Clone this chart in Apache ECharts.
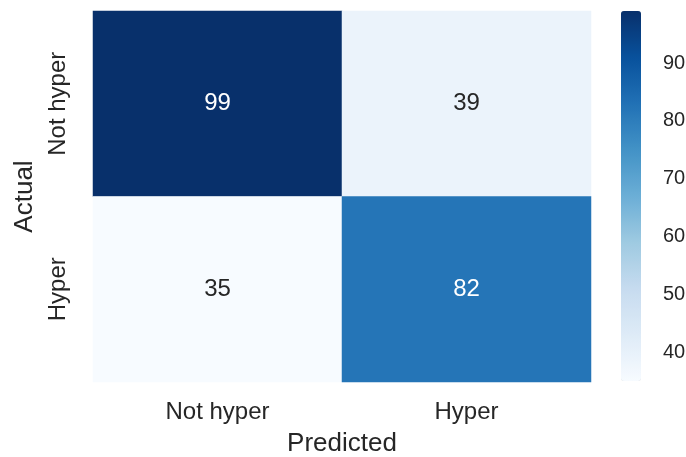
<!DOCTYPE html>
<html>
<head>
<meta charset="utf-8">
<script src="https://cdn.jsdelivr.net/npm/echarts@6/dist/echarts.min.js"></script>
<style>
  html, body { margin: 0; padding: 0; background: #fff; }
  #chart { width: 686px; height: 457px; }
</style>
</head>
<body>
<div id="chart"></div>
<script>
// Confusion matrix: rows are actual classes, columns are predicted classes
const predictedLabels = ['Not hyper', 'Hyper'];
const actualLabels = ['Not hyper', 'Hyper'];
const counts = [
  [99, 39],
  [35, 82]
];
const colorMin = 35;
const colorMax = 99;
const colorbarTicks = [40, 50, 60, 70, 80, 90];

// Sequential blue palette, light to dark
const blues = ['#f7fbff', '#deebf7', '#c6dbef', '#9ecae1', '#6baed6',
               '#4292c6', '#2171b5', '#08519c', '#08306b'];

const FONT = 'Liberation Sans, Arial, sans-serif';
const TEXT = '#262626';

const cells = [];
counts.forEach((row, r) => {
  row.forEach((v, c) => {
    const t = (v - colorMin) / (colorMax - colorMin);
    cells.push({
      value: [c, r, v],
      label: { color: t > 0.5 ? '#ffffff' : TEXT }
    });
  });
});

const chart = echarts.init(document.getElementById('chart'), null, { renderer: 'canvas' });
chart.setOption({
  backgroundColor: '#ffffff',
  animation: false,
  textStyle: { fontFamily: FONT },
  grid: [
    { left: 93, top: 11, width: 498, height: 371, outerBoundsMode: 'none', containLabel: false },
    { left: 621, top: 11, width: 20, height: 370, outerBoundsMode: 'none', containLabel: false }
  ],
  xAxis: [
    {
      gridIndex: 0,
      type: 'category',
      data: predictedLabels,
      axisLine: { show: false },
      axisTick: { show: false },
      splitLine: { show: false },
      axisLabel: { margin: 18, fontSize: 24, color: TEXT, fontFamily: FONT },
      name: 'Predicted',
      nameLocation: 'middle',
      nameGap: 49,
      nameTextStyle: { fontSize: 26, color: TEXT, fontFamily: FONT }
    },
    {
      gridIndex: 1,
      type: 'value',
      show: false
    }
  ],
  yAxis: [
    {
      gridIndex: 0,
      type: 'category',
      data: actualLabels,
      inverse: true,
      axisLine: { show: false },
      axisTick: { show: false },
      splitLine: { show: false },
      axisLabel: { rotate: 90, margin: 23, fontSize: 24, color: TEXT, fontFamily: FONT },
      name: 'Actual',
      nameLocation: 'middle',
      nameGap: 55,
      nameRotate: 90,
      nameTextStyle: { fontSize: 26, color: TEXT, fontFamily: FONT }
    },
    {
      gridIndex: 1,
      type: 'value',
      position: 'right',
      min: colorMin,
      max: colorMax,
      axisLine: { show: false },
      splitLine: { show: false },
      axisTick: {
        show: true,
        length: 12,
        customValues: colorbarTicks,
        lineStyle: { color: '#3a3a3a', width: 2 }
      },
      axisLabel: {
        margin: 22,
        fontSize: 20,
        color: TEXT,
        fontFamily: FONT,
        customValues: colorbarTicks
      }
    }
  ],
  visualMap: {
    type: 'continuous',
    min: colorMin,
    max: colorMax,
    seriesIndex: 0,
    dimension: 2,
    calculable: false,
    realtime: false,
    left: 621,
    top: 11,
    padding: 0,
    itemWidth: 20,
    itemHeight: 370,
    text: null,
    showLabel: false,
    hoverLink: false,
    inRange: { color: blues }
  },
  series: [{
    type: 'heatmap',
    xAxisIndex: 0,
    yAxisIndex: 0,
    data: cells,
    label: {
      show: true,
      fontSize: 24,
      fontFamily: FONT,
      formatter: p => String(p.value[2])
    },
    itemStyle: { borderWidth: 0 },
    emphasis: { disabled: true }
  }]
});
</script>
</body>
</html>
